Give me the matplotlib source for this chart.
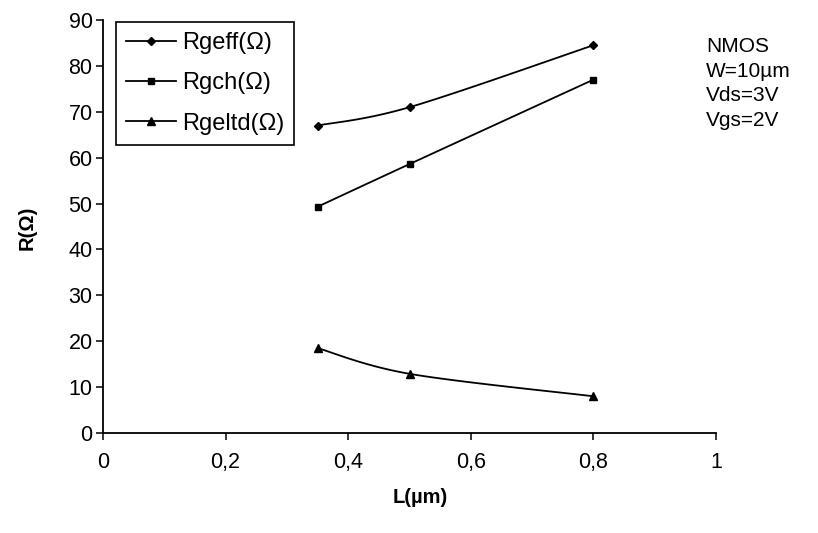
import numpy as np
import matplotlib
matplotlib.use("Agg")
import matplotlib.pyplot as plt
from matplotlib.ticker import FixedLocator

plt.rcParams['font.family'] = ['Liberation Sans', 'DejaVu Sans']

# Gate length (µm) and gate resistances (Ω)
L_um = [0.35, 0.5, 0.8]
rg_eff = [67.0, 71.0, 84.5]
rg_ch = [49.3, 58.6, 77.0]
rg_eltd = [18.5, 12.9, 8.0]

x_ticks = [0, 0.2, 0.4, 0.6, 0.8, 1]
x_ticklabels = ["0", "0,2", "0,4", "0,6", "0,8", "1"]
y_ticks = list(range(0, 91, 10))

series = [
    ("Rgeff(Ω)", rg_eff, "D", 4.5),
    ("Rgch(Ω)", rg_ch, "s", 5.0),
    ("Rgeltd(Ω)", rg_eltd, "^", 6.0),
]

FS = 15.5


def smooth_curve(xs, ys, n=40, xspan=1.0, yspan=90.0):
    """Cubic Bezier smoothing through the points (spreadsheet-style)."""
    px = np.asarray(xs, float) / xspan
    py = np.asarray(ys, float) / yspan
    pts = np.column_stack([px, py])
    out = []
    for i in range(len(pts) - 1):
        p0 = pts[i - 1] if i > 0 else pts[i]
        p1 = pts[i]
        p2 = pts[i + 1]
        p3 = pts[i + 2] if i + 2 < len(pts) else pts[i + 1]
        c1 = p1 + (p2 - p0) / 6.0
        c2 = p2 - (p3 - p1) / 6.0
        t = np.linspace(0, 1, n)[:, None]
        seg = ((1 - t) ** 3) * p1 + 3 * ((1 - t) ** 2) * t * c1 + 3 * (1 - t) * t ** 2 * c2 + t ** 3 * p2
        out.append(seg if i == 0 else seg[1:])
    seg = np.vstack(out)
    return seg[:, 0] * xspan, seg[:, 1] * yspan


fig = plt.figure(figsize=(8.18, 5.33), dpi=100)
ax = fig.add_axes([103 / 818, 1 - 433 / 533, 613 / 818, 413 / 533])

for label, vals, mk, ms in series:
    sx, sy = smooth_curve(L_um, vals)
    ax.plot(sx, sy, color="black", lw=1.3, solid_capstyle="butt")
    ax.plot(L_um, vals, linestyle="none", marker=mk, color="black", ms=ms)
    # legend proxy
    ax.plot([], [], color="black", lw=1.3, marker=mk, ms=ms, label=label)

ax.set_xlim(0, 1)
ax.set_ylim(0, 90)
ax.xaxis.set_major_locator(FixedLocator(x_ticks))
ax.set_xticklabels(x_ticklabels)
ax.yaxis.set_major_locator(FixedLocator(y_ticks))

for s in ("top", "right"):
    ax.spines[s].set_visible(False)
for s in ("left", "bottom"):
    ax.spines[s].set_linewidth(1.3)
ax.tick_params(axis="both", direction="out", length=5, width=1.1, labelsize=FS, colors="black")
ax.tick_params(axis="x", pad=9)
ax.tick_params(axis="y", pad=2.5)

ax.set_xlabel("L(µm)", fontsize=FS - 1.0, fontweight="bold")
ax.xaxis.set_label_coords((420 - 103) / 613, -(488 - 433) / 413)
ax.set_ylabel("R(Ω)", fontsize=FS - 1.0, fontweight="bold")
ax.yaxis.set_label_coords(-(103 - 37) / 613, (433 - 228) / 413)

leg = ax.legend(loc="upper left", bbox_to_anchor=(13 / 613, 1 - 2 / 413), fontsize=17,
                frameon=True, fancybox=False, edgecolor="black", framealpha=1,
                handlelength=2.1, handletextpad=0.28, labelspacing=0.78,
                borderpad=0.42, borderaxespad=0.0)
leg.get_frame().set_linewidth(1.2)

fig.text(706 / 818, 1 - 37 / 533, "NMOS\nW=10µm\nVds=3V\nVgs=2V", fontsize=FS - 0.5,
         va="top", ha="left", linespacing=1.38)

fig.savefig("out.png", dpi=100)
